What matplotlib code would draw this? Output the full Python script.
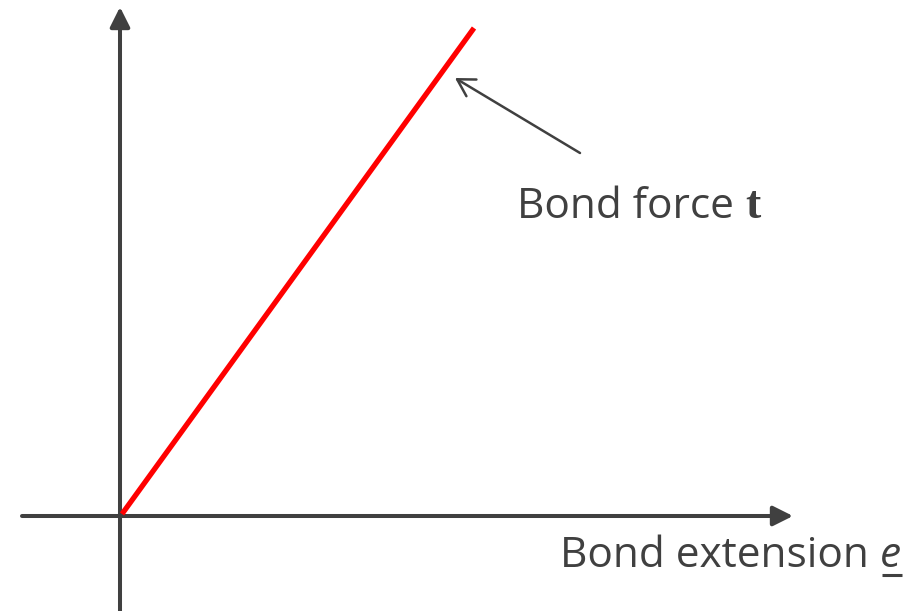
import matplotlib
matplotlib.use("Agg")
import matplotlib.pyplot as plt

# data (in pixel-like units relative to origin)
line_e = [0, 354]
line_t = [0, 488]
force_label = "Bond force "
force_symbol = "t"
ext_label = "Bond extension "
ext_symbol = "e"

GREY = "#404040"

fig = plt.figure(figsize=(9.24, 6.11), dpi=100)
ax = fig.add_axes([0, 0, 1, 1])
ax.set_xlim(-120, 804)
ax.set_ylim(-95, 516)
ax.axis('off')

# axes arrows
ax.annotate('', xy=(673, 0), xytext=(-98, 0),
            arrowprops=dict(arrowstyle='-|>,head_length=0.8,head_width=0.4',
                            mutation_scale=15, lw=2.9, color=GREY,
                            shrinkA=0, shrinkB=0))
ax.annotate('', xy=(0, 509), xytext=(0, -95),
            arrowprops=dict(arrowstyle='-|>,head_length=0.8,head_width=0.4',
                            mutation_scale=15, lw=2.9, color=GREY,
                            shrinkA=0, shrinkB=0))

# red line
ax.plot([line_e[0] + 2, line_e[1]], [line_t[0] + 2, line_t[1]],
        color='#ff0000', lw=3.8, solid_capstyle='butt', zorder=3)

# annotation arrow
ax.annotate('', xy=(335, 438), xytext=(460, 363),
            arrowprops=dict(arrowstyle='->,head_length=0.6,head_width=0.35',
                            mutation_scale=20, lw=1.8, color=GREY,
                            shrinkA=0, shrinkB=0))

fig.canvas.draw()
r = fig.canvas.get_renderer()

t1 = ax.text(397, 298, force_label, fontsize=30.5, family='Open Sans',
             color=GREY, va='baseline', ha='left')
bb = t1.get_window_extent(r)
x_end = ax.transData.inverted().transform((bb.x1, bb.y0))[0]
ax.text(x_end, 298, force_symbol, fontsize=33, family='Liberation Serif',
        weight='bold', color=GREY, va='baseline', ha='left')

t2 = ax.text(440, -51, ext_label, fontsize=30.5, family='Open Sans',
             color=GREY, va='baseline', ha='left')
bb2 = t2.get_window_extent(r)
x_end2 = ax.transData.inverted().transform((bb2.x1, bb2.y0))[0]
t3 = ax.text(x_end2, -51, ext_symbol, fontsize=30.5, family='Open Sans',
             style='italic', color=GREY, va='baseline', ha='left')
bb3 = t3.get_window_extent(r)
(ux0, _), (ux1, _) = ax.transData.inverted().transform([(bb3.x0, 0), (bb3.x1, 0)])
ax.plot([ux0 + 2, ux1 + 1], [-59, -59], color=GREY, lw=2.2, solid_capstyle='butt')

fig.savefig('out.png', dpi=100)
